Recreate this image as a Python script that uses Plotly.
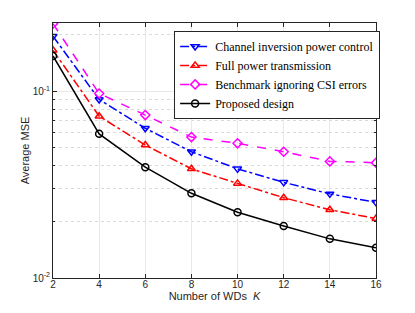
import plotly.graph_objects as go

K = [2, 4, 6, 8, 10, 12, 14, 16]
channel_inversion = [0.197, 0.0903, 0.0633, 0.0474, 0.0384, 0.0325, 0.0282, 0.0254]
full_power = [0.1655, 0.0735, 0.0515, 0.0384, 0.0321, 0.0269, 0.0232, 0.0208]
benchmark = [0.2296, 0.0972, 0.0745, 0.0568, 0.0526, 0.0474, 0.0421, 0.0414]
proposed = [0.1543, 0.0591, 0.0392, 0.0284, 0.0225, 0.0190, 0.0162, 0.0145]

y_major = [0.01, 0.1]
y_major_text = ["10<sup>-2</sup>", "10<sup>-1</sup>"]
y_minor = [0.02, 0.03, 0.04, 0.05, 0.06, 0.07, 0.08, 0.09, 0.2]

fig = go.Figure()
series = [
    ("Channel inversion power control", channel_inversion, "blue", "dashdot", "triangle-down-open"),
    ("Full power transmission", full_power, "red", "dashdot", "triangle-up-open"),
    ("Benchmark ignoring CSI errors", benchmark, "magenta", "dash", "diamond-open"),
    ("Proposed design", proposed, "black", "solid", "circle-open"),
]
for name, vals, col, dash, sym in series:
    fig.add_trace(go.Scatter(
        x=K, y=vals, name=name, mode="lines+markers",
        line=dict(color=col, width=1.5, dash=dash),
        marker=dict(symbol=sym, size=7, color=col, line=dict(width=1.5, color=col)),
    ))

axis_common = dict(
    showline=True, linecolor="#262626", linewidth=1, mirror="ticks",
    ticks="inside", ticklen=4, tickcolor="#262626",
    tickfont=dict(family="Liberation Sans, Arial", size=10, color="#262626"),
    zeroline=False, automargin=False,
)
fig.update_xaxes(
    range=[2, 16], tickvals=K, showgrid=True, gridcolor="#e8e8e8", gridwidth=1,
    ticklabelstandoff=-3,
    title=dict(text="Number of WDs  <i>K</i>", font=dict(family="Liberation Sans, Arial", size=11, color="#262626"), standoff=0),
    **axis_common,
)
fig.update_yaxes(
    type="log", range=[-2, -0.635], tickvals=y_major, ticktext=y_major_text,
    showgrid=True, gridcolor="#e8e8e8", gridwidth=1,
    minor=dict(tickvals=y_minor, ticks="inside", ticklen=2, tickcolor="#262626",
               showgrid=True, gridcolor="#d9d9d9", griddash="dot", gridwidth=1),
    title=dict(text="Average MSE", font=dict(family="Liberation Sans, Arial", size=11, color="#262626"), standoff=0),
    **axis_common,
)
fig.update_layout(
    width=415, height=313,
    margin=dict(l=53, r=39, t=23, b=35),
    paper_bgcolor="white", plot_bgcolor="white",
    legend=dict(
        x=0.375, y=0.969, xanchor="left", yanchor="top",
        font=dict(family="Liberation Serif, Times New Roman", size=12, color="black"),
        bgcolor="white", bordercolor="#262626", borderwidth=1,
        tracegroupgap=0, itemwidth=30,
    ),
)
fig.write_html("out.html", config={"displayModeBar": False},
               post_script="document.body.style.margin='0';")
